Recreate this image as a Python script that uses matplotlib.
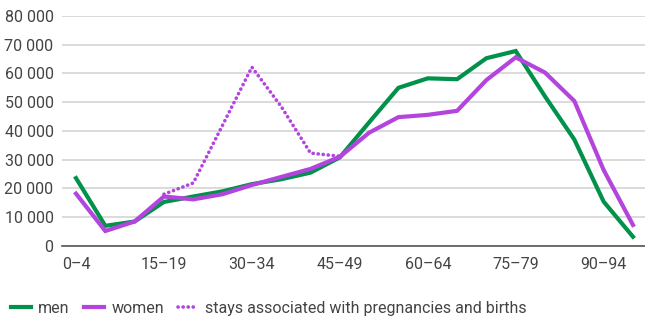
#!/usr/bin/env python3

import matplotlib
matplotlib.use("Agg")
import matplotlib.pyplot as plt
import matplotlib.ticker as tkr
import numpy as np

plt.rcParams['font.family'] = ['Roboto', 'DejaVu Sans']

age_groups = ["0–4", "5–9", "10–14", "15–19", "20–24", "25–29", "30–34", "35–39",
              "40–44", "45–49", "50–54", "55–59", "60–64", "65–69", "70–74",
              "75–79", "80–84", "85–89", "90–94", "95+"]

men = [23600, 7000, 8500, 15300, 17200, 19000, 21500, 23200, 25500, 30800,
       43000, 55000, 58300, 58000, 65300, 67800, 52000, 37000, 15400, 3200]
women = [18200, 5200, 8500, 17200, 16200, 18000, 21200, 24000, 26800, 31000,
         39400, 44800, 45600, 47000, 57700, 65600, 60300, 50400, 26400, 7300]
# pregnancy stays included, only 15-19 .. 45-49
pregnancy = [18000, 21900, 42000, 62200, 48500, 32300, 31200]
preg_idx = list(range(3, 10))

green = "#00914a"
purple = "#b444de"
text_col = "#444444"

fig = plt.figure(figsize=(6.45, 3.19), dpi=100)
ax = fig.add_axes([0.096, 0.229, 0.904, 0.721])

x = np.arange(len(age_groups))
ax.plot(x, men, color=green, lw=3.0, label="men", solid_joinstyle="miter", zorder=3)
ax.plot(x, women, color=purple, lw=3.0, label="women", solid_joinstyle="miter", zorder=4)
ax.plot(preg_idx, pregnancy, color=purple, lw=2.6, linestyle=(0, (0.05, 1.35)),
        dash_capstyle="round", label="stays associated with pregnancies and births", zorder=2)

ax.set_ylim(0, 80000)
ax.set_xlim(-0.48, 19.41)
ax.yaxis.set_major_locator(tkr.MultipleLocator(10000))
ax.yaxis.set_major_formatter(tkr.FuncFormatter(lambda v, p: f"{int(v):,}".replace(",", " ")))
ax.set_xticks(x[::3])
ax.set_xticklabels(age_groups[::3])

ax.grid(axis="y", color="#d4d4d4", lw=1.2)
ax.set_axisbelow(True)
for s in ["top", "right", "left"]:
    ax.spines[s].set_visible(False)
ax.spines["bottom"].set_color("#555555")
ax.spines["bottom"].set_linewidth(1.2)
ax.tick_params(axis="both", length=0, labelsize=11.5, colors=text_col, pad=6)
ax.tick_params(axis="x", pad=8)

fig.legend(loc="lower left", bbox_to_anchor=(-0.005, -0.035), ncol=3, frameon=False,
           fontsize=11.5, labelcolor=text_col, handlelength=1.25, handletextpad=0.45,
           columnspacing=0.9)

fig.savefig("out.png", dpi=100)
